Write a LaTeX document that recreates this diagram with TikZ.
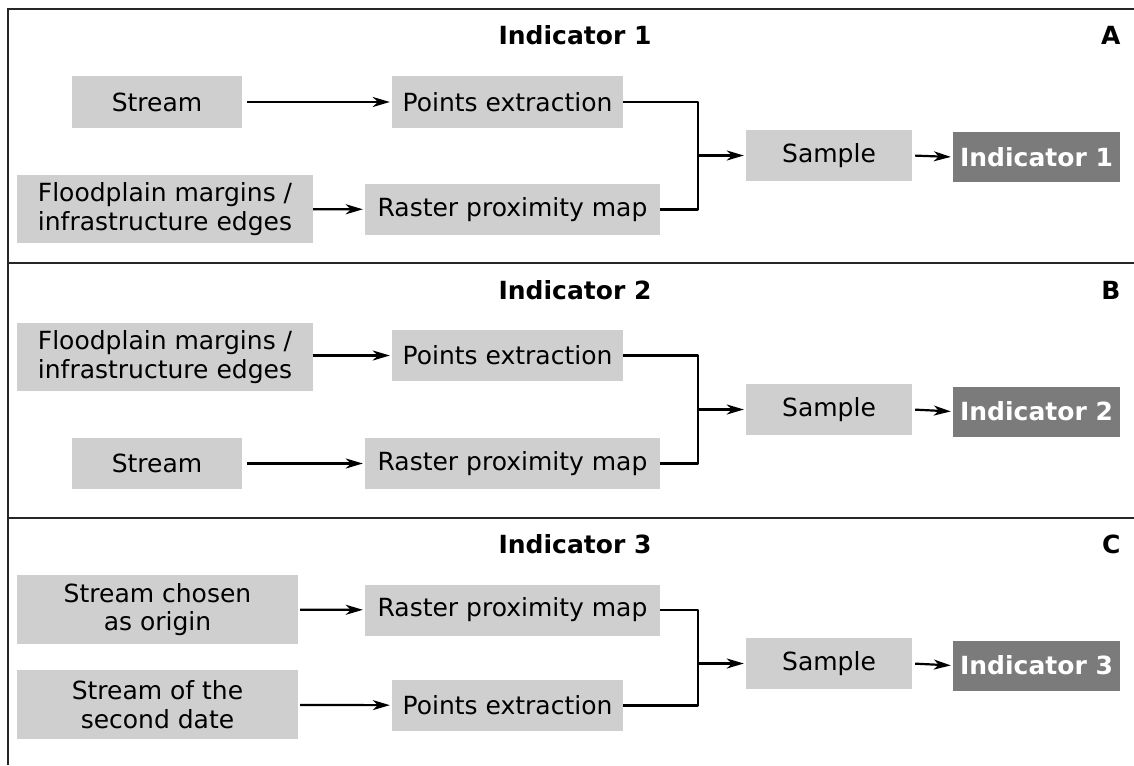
\documentclass[tikz,border=0pt]{standalone}
\usepackage{fontspec}
\setmainfont{DejaVu Sans}
\usetikzlibrary{arrows.meta}
\definecolor{boxgray}{HTML}{CFCFCF}
\definecolor{outgray}{HTML}{7B7B7B}
\tikzset{
  txt/.style={font=\fontsize{25}{28.5}\selectfont},
  head/.style={font=\fontsize{25}{28.5}\selectfont\bfseries},
  box/.style={txt, fill=boxgray, inner sep=0pt, align=center},
  outbox/.style={head, fill=outgray, text=white, inner sep=0pt},
  arr/.style={-{Stealth[length=17pt,width=10pt,inset=5pt]}, line width=2.2pt, shorten >=2pt},
  link/.style={line width=2.2pt, line join=round},
  frame/.style={line width=2.2pt, draw=black!85}
}

\begin{document}
\begin{tikzpicture}[x=1pt,y=-1pt]
\useasboundingbox (0,0) rectangle (1134,765);

% Draw the frame and the panel separators
  \draw[frame] (8,765) -- (8,9) -- (1134,9);
  \draw[frame] (8,263) -- (1134,263);
  \draw[frame] (8,518) -- (1134,518);

% Panel A
  \node[head, anchor=base] (t1) at (575,45) {Indicator 1};
  \node[head, anchor=base east] (l1) at (1124,45) {A};
  \node[box, minimum width=170pt, minimum height=51pt] (s1) at (157,102) {Stream};
  \node[box, minimum width=231pt, minimum height=51pt] (p1) at (507.5,102) {Points extraction};
  \node[box, minimum width=296pt, minimum height=68pt] (f1) at (165,209) {Floodplain margins /\\infrastructure edges};
  \node[box, minimum width=295pt, minimum height=51pt] (r1) at (512.5,209.5) {Raster proximity map};
  \node[box, minimum width=166pt, minimum height=51pt] (sa1) at (829,155.5) {Sample};
  \node[outbox, minimum width=167pt, minimum height=50pt] (o1) at (1036.5,157) {Indicator 1};
  \coordinate (br1) at (698,155.5);

  \draw[arr, shorten <=5pt] (s1) -- (p1);
  \draw[arr] (f1) -- (r1);
  \draw[link] (p1.east) -| (br1) |- (r1.east);
  \draw[arr] (br1) -- (br1 -| sa1.west);
  \draw[arr, shorten <=3pt] (sa1.east) -- (o1.west);

% Panel B
  \node[head, anchor=base] (t2) at (575,299) {Indicator 2};
  \node[head, anchor=base east] (l2) at (1124,299) {B};
  \node[box, minimum width=296pt, minimum height=68pt] (f2) at (165,357) {Floodplain margins /\\infrastructure edges};
  \node[box, minimum width=231pt, minimum height=51pt] (p2) at (507.5,355.5) {Points extraction};
  \node[box, minimum width=170pt, minimum height=51pt] (s2) at (157,463.5) {Stream};
  \node[box, minimum width=295pt, minimum height=51pt] (r2) at (512.5,463.5) {Raster proximity map};
  \node[box, minimum width=166pt, minimum height=51pt] (sa2) at (829,409.5) {Sample};
  \node[outbox, minimum width=167pt, minimum height=50pt] (o2) at (1036.5,411.5) {Indicator 2};
  \coordinate (br2) at (698,409.5);

  \draw[arr] (f2.east |- p2) -- (p2);
  \draw[arr, shorten <=5pt] (s2) -- (r2);
  \draw[link] (p2.east) -| (br2) |- (r2.east);
  \draw[arr] (br2) -- (br2 -| sa2.west);
  \draw[arr, shorten <=3pt] (sa2.east) -- (o2.west);

% Panel C
  \node[head, anchor=base] (t3) at (575,553) {Indicator 3};
  \node[head, anchor=base east] (l3) at (1124,553) {C};
  \node[box, minimum width=281pt, minimum height=69pt] (c1) at (157.5,609.5) {Stream chosen\\as origin};
  \node[box, minimum width=295pt, minimum height=51pt] (r3) at (512.5,610) {Raster proximity map};
  \node[box, minimum width=281pt, minimum height=69pt] (c2) at (157.5,704.5) {Stream of the\\second date};
  \node[box, minimum width=231pt, minimum height=51pt] (p3) at (507.5,705.5) {Points extraction};
  \node[box, minimum width=166pt, minimum height=51pt] (sa3) at (829,663.5) {Sample};
  \node[outbox, minimum width=167pt, minimum height=50pt] (o3) at (1036.5,665.5) {Indicator 3};
  \coordinate (br3) at (698,663.5);

  \draw[arr, shorten <=2pt] (c1) -- (r3);
  \draw[arr, shorten <=2pt] (c2) -- (p3);
  \draw[link] (r3.east) -| (br3) |- (p3.east);
  \draw[arr] (br3) -- (br3 -| sa3.west);
  \draw[arr, shorten <=3pt] (sa3.east) -- (o3.west);

\end{tikzpicture}
\end{document}
